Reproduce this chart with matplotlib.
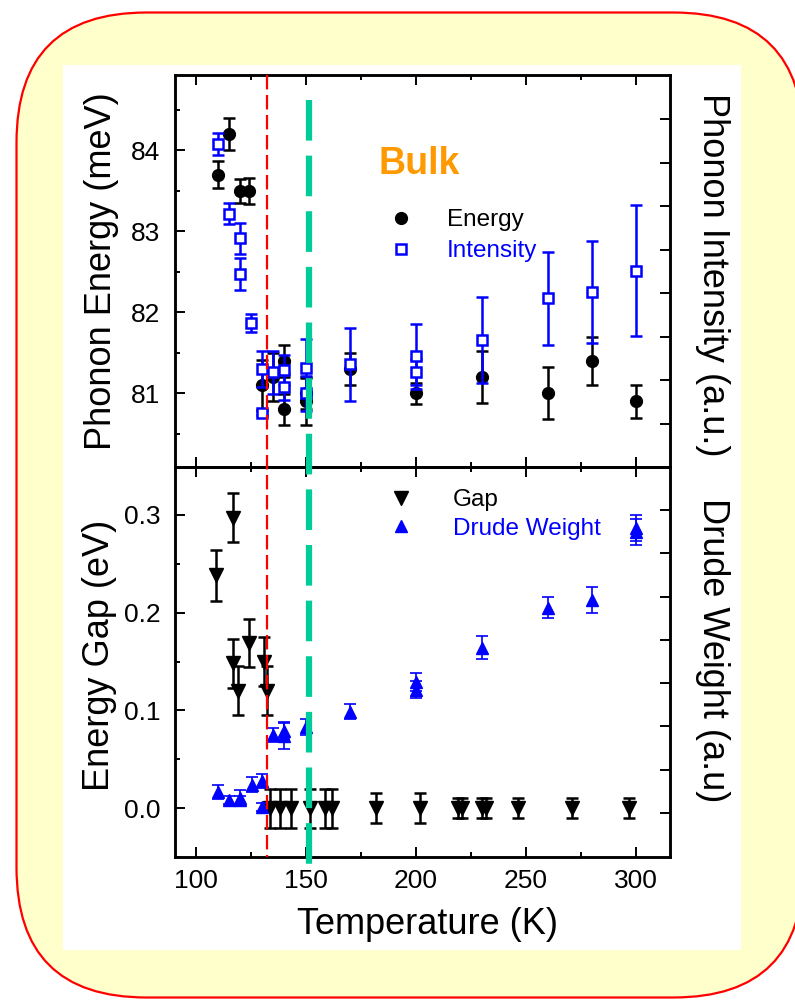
import numpy as np
import matplotlib
matplotlib.use('Agg')
import matplotlib.pyplot as plt
from matplotlib.patches import FancyBboxPatch, Rectangle
from matplotlib.lines import Line2D
from matplotlib.ticker import MultipleLocator, FixedLocator, FormatStrFormatter, NullFormatter
import matplotlib.transforms as mtransforms

plt.rcParams['font.family'] = ['Liberation Sans', 'DejaVu Sans']

# ---------------- data ----------------
# Phonon energy (meV), left axis, top panel
T_energy = [110, 115, 120, 124, 130, 135, 140, 140, 150, 150, 170, 200, 230, 260, 280, 300]
energy = [83.7, 84.2, 83.5, 83.5, 81.1, 81.2, 81.4, 80.8, 80.9, 81.0, 81.3, 81.0, 81.2, 81.0, 81.4, 80.9]
energy_err = [0.17, 0.2, 0.15, 0.16, 0.31, 0.3, 0.2, 0.19, 0.29, 0.2, 0.2, 0.13, 0.32, 0.32, 0.3, 0.2]

# Phonon intensity (a.u.), right axis, top panel
T_int = [110, 115, 120, 120, 125, 130, 130, 135, 140, 140, 150, 150, 170, 200, 200, 230, 260, 280, 300]
intensity = [7.44, 5.83, 5.26, 4.45, 3.31, 2.25, 1.24, 2.18, 2.23, 1.84, 2.27, 1.70, 2.36, 2.55, 2.18, 2.92, 3.88, 4.02, 4.52]
intensity_err = [0.25, 0.25, 0.35, 0.37, 0.2, 0.41, 0.05, 0.5, 0.35, 0.3, 0.67, 0.4, 0.84, 0.75, 0.3, 0.99, 1.07, 1.17, 1.5]

# Energy gap (eV), left axis, bottom panel
T_gap = [109, 117, 117, 119, 124, 131, 132.5, 133.5, 138, 143, 152, 158.5, 162, 182, 202, 219, 221, 230, 232, 246.5, 271, 297]
gap = [0.238, 0.297, 0.148, 0.12, 0.169, 0.15, 0.12, 0.0, 0.0, 0.0, 0.0, 0.0, 0.0, 0.0, 0.0, 0.0, 0.0, 0.0, 0.0, 0.0, 0.0, 0.0]
gap_err = [0.026, 0.025, 0.025, 0.025, 0.025, 0.025, 0.025, 0.02, 0.02, 0.02, 0.02, 0.02, 0.02, 0.015, 0.015,
           0.01, 0.01, 0.01, 0.01, 0.01, 0.01, 0.01]

# Drude weight (a.u.), right axis, bottom panel
T_drude = [110, 115, 120, 120, 125.5, 130, 130, 135, 140, 140, 150, 170, 200, 200, 230, 260, 280, 300, 300]
drude = [0.49, 0.30, 0.35, 0.30, 0.65, 0.74, 0.14, 1.80, 1.90, 1.78, 1.99, 2.34, 3.03, 2.85, 3.82, 4.75, 4.93, 6.6, 6.5]
drude_err = [0.16, 0.1, 0.17, 0.1, 0.17, 0.17, 0.1, 0.17, 0.2, 0.3, 0.18, 0.17, 0.2, 0.2, 0.27, 0.24, 0.3, 0.3, 0.3]

T_red_line = 132.3
T_green_line = 151.4

x_ticks = [100, 150, 200, 250, 300]
energy_ticks = [81, 82, 83, 84]
gap_ticks = [0.0, 0.1, 0.2, 0.3]

# ---------------- figure ----------------
fig = plt.figure(figsize=(7.95, 10), dpi=100)
fig.patch.set_facecolor('white')

bg = FancyBboxPatch((0.165, 0.025), 7.87, 9.85,
                    boxstyle='round,pad=0,rounding_size=1.3',
                    transform=fig.dpi_scale_trans, facecolor='#FFFFCC',
                    edgecolor='red', linewidth=1.6, zorder=-10)
fig.patches.append(bg)
white = Rectangle((0.63, 0.50), 6.78, 8.85, transform=fig.dpi_scale_trans,
                  facecolor='white', edgecolor='none', zorder=-9)
fig.patches.append(white)

L = 175 / 795
W = 495 / 795
ax1 = fig.add_axes([L, 0.533, W, 0.392])
ax3 = fig.add_axes([L, 0.143, W, 0.390], sharex=ax1)

TICK_FS = 19
LABEL_FS = 26
LEG_FS = 17.5

# top panel
ax1.errorbar(T_energy, energy, yerr=energy_err, fmt='o', color='black', ms=8.5,
             ecolor='black', elinewidth=1.8, capsize=4.5, capthick=1.8, zorder=3)
ax1.set_ylim(80.09, 84.93)
ax1.yaxis.set_major_locator(FixedLocator(energy_ticks))
ax1.yaxis.set_minor_locator(MultipleLocator(0.5))

ax2 = ax1.twinx()
ax2.errorbar(T_int, intensity, yerr=intensity_err, fmt='s', color='blue', ms=7.5,
             mfc='white', mec='blue', mew=1.8, ecolor='blue', elinewidth=1.8,
             capsize=4.5, capthick=1.8, zorder=3)
ax2.set_ylim(0, 9.02)
ax2.yaxis.set_major_locator(FixedLocator(range(1, 9)))
ax2.yaxis.set_major_formatter(NullFormatter())

# bottom panel
ax3.errorbar(T_gap, gap, yerr=gap_err, fmt='v', color='black', ms=9.5,
             ecolor='black', elinewidth=1.8, capsize=4.5, capthick=1.8, zorder=3)
ax3.set_ylim(-0.05, 0.349)
ax3.yaxis.set_major_locator(FixedLocator(gap_ticks))
ax3.yaxis.set_minor_locator(MultipleLocator(0.05))
ax3.yaxis.set_major_formatter(FormatStrFormatter('%.1f'))

ax4 = ax3.twinx()
ax4.errorbar(T_drude, drude, yerr=drude_err, fmt='^', color='blue', ms=9,
             ecolor='blue', elinewidth=1.2, capsize=4, capthick=1.2, zorder=3)
ax4.set_ylim(-1.02, 8.0)
ax4.yaxis.set_major_locator(FixedLocator(range(0, 8)))
ax4.yaxis.set_major_formatter(NullFormatter())

ax1.set_xlim(90.5, 315.5)
ax1.xaxis.set_major_locator(FixedLocator(x_ticks))
ax1.xaxis.set_minor_locator(MultipleLocator(25))

for ax in (ax1, ax3):
    ax.tick_params(which='both', direction='in', top=True, bottom=True, left=True,
                   right=False, width=1.4, labelsize=TICK_FS)
    ax.tick_params(which='major', length=7)
    ax.tick_params(which='minor', length=3.6)
    ax.tick_params(axis='y', pad=10.5)
    ax.tick_params(axis='x', pad=8.5)
for ax in (ax2, ax4):
    ax.tick_params(which='both', direction='in', width=1.4, length=7, labelright=False)
for ax in (ax1, ax2, ax3, ax4):
    for s in ax.spines.values():
        s.set_linewidth(1.8)
    ax.patch.set_alpha(0)
ax1.tick_params(labelbottom=False)

# axis labels
ax1.set_ylabel('Phonon Energy (meV)', fontsize=LABEL_FS, va='center')
ax1.yaxis.set_label_coords(-0.1475, 0.5)
ax3.set_ylabel('Energy Gap (eV)', fontsize=LABEL_FS, va='center')
ax3.yaxis.set_label_coords(-0.152, 0.518)
ax2.set_ylabel('Phonon Intensity (a.u.)', fontsize=LABEL_FS, rotation=270, va='center')
ax2.yaxis.set_label_coords(1.086, 0.49)
ax4.set_ylabel('Drude Weight (a.u)', fontsize=LABEL_FS, rotation=270, va='center')
ax4.yaxis.set_label_coords(1.086, 0.53)
ax3.set_xlabel('Temperature (K)', fontsize=LABEL_FS, va='center')
ax3.xaxis.set_label_coords(0.511, -0.172)

# Bulk text
ax1.text(0.493, 0.773, 'Bulk', transform=ax1.transAxes, fontsize=27,
         fontweight='bold', color='#FF9900', ha='center', va='center')

# legends
h_e = Line2D([], [], ls='none', marker='o', color='black', ms=8.5)
h_i = Line2D([], [], ls='none', marker='s', mfc='white', mec='blue', mew=1.8, ms=7.5)
leg1 = ax2.legend([h_e, h_i], ['Energy', 'Intensity'], loc='upper left',
                  bbox_to_anchor=(0.432, 0.657), frameon=False, fontsize=LEG_FS,
                  handlelength=1.0, handletextpad=1.4, borderpad=0,
                  borderaxespad=0, labelspacing=0.36)
leg1.get_texts()[1].set_color('blue')

h_g = Line2D([], [], ls='none', marker='v', color='black', ms=9.5)
h_d = Line2D([], [], ls='none', marker='^', color='blue', ms=9)
leg2 = ax4.legend([h_g, h_d], ['Gap', 'Drude Weight'], loc='upper left',
                  bbox_to_anchor=(0.432, 0.943), frameon=False, fontsize=LEG_FS,
                  handlelength=1.0, handletextpad=1.62, borderpad=0,
                  borderaxespad=0, labelspacing=0.27)
leg2.get_texts()[1].set_color('blue')

# vertical dashed lines
tr = mtransforms.blended_transform_factory(ax3.transData, fig.transFigure)
red = Line2D([T_red_line, T_red_line], [0.925, 0.143], transform=tr, color='red',
             linewidth=1.6, dashes=(6.5, 2.5), zorder=5)
green = Line2D([T_green_line, T_green_line], [0.900, 0.132], transform=tr,
               color='#00CC99', linewidth=4.5, dashes=(6.5, 2.4),
               solid_capstyle='butt', dash_capstyle='butt', zorder=6)
fig.add_artist(red)
fig.add_artist(green)

fig.savefig('out.png', dpi=100, facecolor='white')
